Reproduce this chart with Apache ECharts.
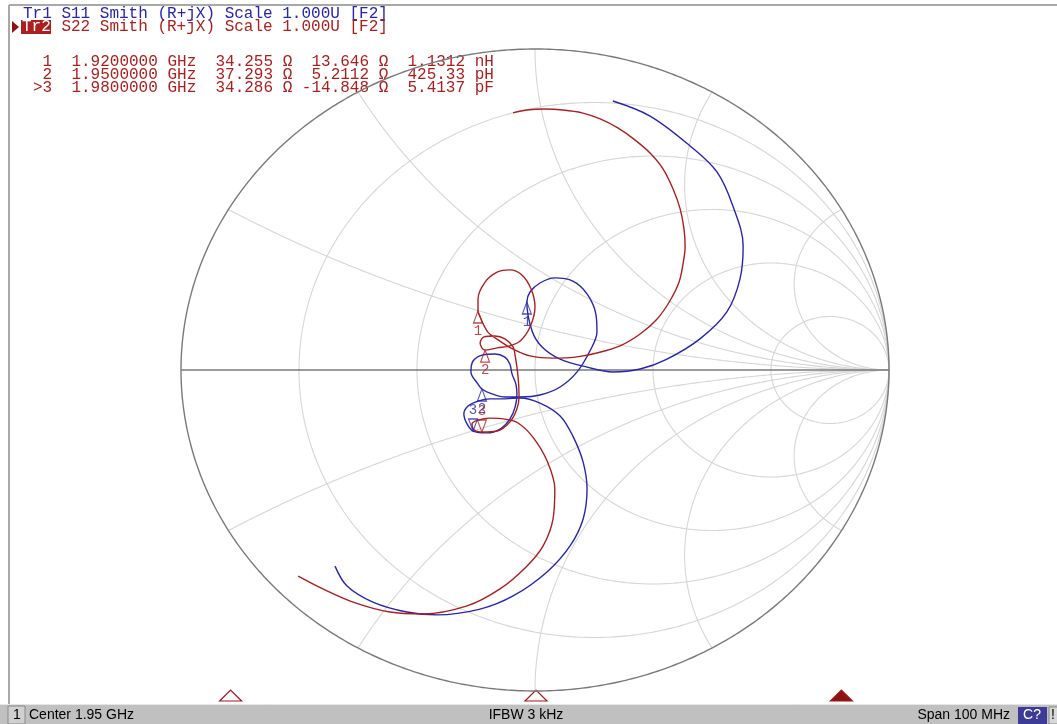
<!DOCTYPE html>
<html><head><meta charset="utf-8">
<script src="https://cdn.jsdelivr.net/npm/echarts@6/dist/echarts.min.js"></script>
<style>html,body{margin:0;padding:0;background:#fff;overflow:hidden}#c{width:1057px;height:724px}</style>
</head><body><div id="c"></div>
<script>
// ---- Data (reflection coefficient, real / imaginary) ----
const s11 = [
[0.220,0.838],[0.325,0.791],[0.438,0.698],[0.514,0.617],[0.559,0.511],[0.588,0.386],[0.579,0.283],[0.542,0.181],[0.466,0.097],[0.373,0.034],[0.297,0.003],[0.220,-0.006],[0.147,0.009],[0.071,0.034],[0.020,0.072],[-0.008,0.121],
[-0.023,0.212],
[-0.014,0.243],[0.014,0.271],[0.056,0.287],[0.107,0.277],[0.147,0.237],[0.172,0.174],[0.175,0.118],[0.155,0.059],[0.119,-0.006],[0.071,-0.053],[0.014,-0.078],[-0.042,-0.084],
[-0.085,-0.084],[-0.127,-0.072],[-0.150,-0.059],[-0.161,-0.044],[-0.181,-0.006],[-0.175,0.028],[-0.147,0.047],[-0.113,0.050],[-0.085,0.040],[-0.071,0.019],[-0.065,-0.012],[-0.054,-0.044],[-0.051,-0.075],
[-0.056,-0.115],[-0.071,-0.153],[-0.099,-0.184],[-0.136,-0.196],[-0.175,-0.190],[-0.192,-0.168],[-0.201,-0.137],[-0.189,-0.112],[-0.161,-0.097],[-0.127,-0.090],[-0.085,-0.090],[-0.042,-0.087],
[0.014,-0.103],[0.071,-0.143],[0.107,-0.206],[0.136,-0.287],[0.147,-0.371],[0.136,-0.464],[0.099,-0.548],[0.034,-0.629],[-0.062,-0.704],[-0.155,-0.745],[-0.277,-0.763],[-0.362,-0.754],[-0.458,-0.723],[-0.531,-0.673],[-0.565,-0.611]
];
const s22 = [
[-0.062,0.801],[-0.023,0.810],[0.028,0.813],[0.079,0.810],[0.133,0.801],[0.184,0.782],[0.234,0.754],[0.282,0.717],[0.325,0.676],[0.362,0.626],[0.390,0.564],[0.410,0.502],[0.421,0.439],[0.424,0.383],[0.418,0.330],[0.407,0.274],[0.381,0.215],[0.345,0.159],[0.297,0.112],[0.240,0.075],[0.175,0.053],[0.113,0.040],[0.051,0.037],[-0.014,0.044],[-0.062,0.065],
[-0.099,0.090],[-0.133,0.118],[-0.155,0.165],[-0.161,0.184],[-0.161,0.221],[-0.141,0.274],[-0.107,0.305],[-0.071,0.312],[-0.037,0.296],[-0.011,0.252],[0.000,0.196],[-0.014,0.134],[-0.042,0.090],[-0.071,0.075],
[-0.107,0.069],[-0.141,0.062],[-0.155,0.084],[-0.144,0.103],[-0.113,0.106],[-0.085,0.097],[-0.062,0.072],
[-0.056,0.044],[-0.048,-0.019],[-0.045,-0.081],[-0.051,-0.121],[-0.071,-0.162],[-0.107,-0.190],[-0.150,-0.193],[-0.172,-0.187],[-0.178,-0.168],[-0.161,-0.156],[-0.127,-0.150],[-0.085,-0.153],[-0.048,-0.165],
[-0.006,-0.209],[0.034,-0.283],[0.056,-0.371],[0.051,-0.464],[0.023,-0.548],[-0.023,-0.611],[-0.099,-0.682],[-0.192,-0.735],[-0.316,-0.760],[-0.410,-0.754],[-0.514,-0.723],[-0.599,-0.682],[-0.669,-0.642]
];
const s11Markers = [[-0.023,0.212],[-0.150,-0.059],[-0.175,-0.190]];
const s22Markers = [[-0.161,0.184],[-0.141,0.062],[-0.150,-0.193]];
const markerLabels = ['1','2','3'];
const activeMarker = 2;
const markerFreqsGHz = [1.92, 1.95, 1.98];
const centerGHz = 1.95, spanGHz = 0.1;
const headerLines = ['Tr1 S11 Smith (R+jX) Scale 1.000U [F2]', 'S22 Smith (R+jX) Scale 1.000U [F2]'];
const markerRows = [
  ' 1  1.9200000 GHz  34.255 \u03a9  13.646 \u03a9  1.1312 nH',
  ' 2  1.9500000 GHz  37.293 \u03a9  5.2112 \u03a9  425.33 pH',
  '>3  1.9800000 GHz  34.286 \u03a9 -14.848 \u03a9  5.4137 pF'
];
const statusTexts = {left: 'Center 1.95 GHz', mid: 'IFBW 3 kHz', right: 'Span 100 MHz'};
// Smith grid values
const rCircles = [0.2, 0.5, 1, 2, 5];
const xArcs = [0.2679, 0.5774, 1, 1.7321, 3.7321];

// ---- Rendering ----
const BLUE = '#2626b0', RED = '#ad1f1f';
const MONO = '"Liberation Mono", "DejaVu Sans Mono", monospace';
const SANS = '"Liberation Sans Narrow", "Liberation Sans", sans-serif';
const gridItems = [];
rCircles.forEach(r => gridItems.push([0, r]));
xArcs.forEach(x => { gridItems.push([1, x]); gridItems.push([1, -x]); });
gridItems.push([2, 0]); // real axis
gridItems.push([3, 0]); // outer circle r=0

function gamma(r, x) {
  const d = (r + 1) * (r + 1) + x * x;
  return [(r * r - 1 + x * x) / d, 2 * x / d];
}
function gridRender(params, api) {
  const kind = api.value(0), v = api.value(1);
  let pts = [];
  if (kind === 0 || kind === 3) {
    const r = kind === 3 ? 0 : v;
    pts.push([1, 0]);
    const N = 600;
    for (let i = 0; i <= N; i++) {
      const t = -Math.PI / 2 + Math.PI * (i + 0.5) / (N + 1);
      pts.push(gamma(r, Math.tan(t)));
    }
    pts.push([1, 0]);
  } else if (kind === 1) {
    const N = 400;
    for (let i = 0; i < N; i++) {
      const t = (Math.PI / 2) * i / N;
      pts.push(gamma(Math.tan(t), v));
    }
    pts.push([1, 0]);
  } else {
    pts = [[-1, 0], [1, 0]];
  }
  const dark = kind >= 2;
  return {
    type: 'polyline',
    shape: {points: pts.map(p => api.coord(p))},
    style: {fill: null, stroke: dark ? '#7a7a7a' : '#d6d6d6', lineWidth: dark ? 1.4 : 1.1}
  };
}

function markerData(arr) {
  return arr.map((p, i) => {
    const active = i === activeMarker;
    return {
      value: p,
      name: markerLabels[i],
      symbolRotate: active ? 180 : 0,
      symbolOffset: active ? [0, '-50%'] : [0, '50%'],
      label: {position: active ? 'top' : 'bottom', distance: 1}
    };
  });
}
function markerSeries(arr, color) {
  return {
    type: 'scatter', z: 5, data: markerData(arr), symbol: 'triangle', symbolSize: [9, 12],
    itemStyle: {color: 'rgba(255,255,255,0)', borderColor: color, borderWidth: 1.2},
    label: {show: true, formatter: p => p.name, color: color, fontFamily: MONO, fontSize: 14},
    silent: true
  };
}

const chart = echarts.init(document.getElementById('c'), null, {renderer: 'canvas'});
const W = 1057;
const freqX = f => 536 + (f - centerGHz) / spanGHz * 1018;
const graphics = [];
// frame
graphics.push({type: 'line', shape: {x1: 9, y1: 5, x2: 9, y2: 704}, style: {stroke: '#a8a8a8', lineWidth: 2}});
graphics.push({type: 'line', shape: {x1: 9, y1: 5, x2: W, y2: 5}, style: {stroke: '#a8a8a8', lineWidth: 2}});
// header
const HF = '16px ' + MONO;
graphics.push({type: 'text', x: 23, y: 14, style: {text: headerLines[0], fill: BLUE, font: HF, verticalAlign: 'middle'}});
graphics.push({type: 'polygon', shape: {points: [[12, 21], [19, 27], [12, 33]]}, style: {fill: '#8e1414'}});
graphics.push({type: 'rect', shape: {x: 21, y: 20, width: 30, height: 14}, style: {fill: RED}});
graphics.push({type: 'text', x: 22, y: 27, style: {text: 'Tr2', fill: '#fff', font: HF, verticalAlign: 'middle'}});
graphics.push({type: 'text', x: 23 + 4 * 9.6, y: 27, style: {text: headerLines[1], fill: RED, font: HF, verticalAlign: 'middle'}});
markerRows.forEach((t, i) => {
  graphics.push({type: 'text', x: 33, y: 62 + 13 * i, style: {text: t, fill: RED, font: HF, verticalAlign: 'middle'}});
});
// stimulus marker triangles
markerFreqsGHz.forEach((f, i) => {
  const cx = freqX(f), active = i === activeMarker;
  graphics.push({type: 'polygon', shape: {points: [[cx - 11, 701], [cx, 690], [cx + 11, 701]]},
    style: {fill: active ? '#8e1010' : '#fff', stroke: '#a01818', lineWidth: 1.2}});
});
// status bar
graphics.push({type: 'rect', shape: {x: 0, y: 704, width: W, height: 20}, style: {fill: '#c0c0c0'}});
graphics.push({type: 'line', shape: {x1: 0, y1: 704.5, x2: W, y2: 704.5}, style: {stroke: '#e6e6e6', lineWidth: 1}});
graphics.push({type: 'rect', shape: {x: 8, y: 706, width: 17, height: 18}, style: {fill: '#d0d0d0', stroke: '#8a8a8a', lineWidth: 1}});
graphics.push({type: 'text', x: 13, y: 715, style: {text: '1', fill: '#000', font: '14px ' + SANS, verticalAlign: 'middle'}});
graphics.push({type: 'text', x: 29, y: 715, style: {text: statusTexts.left, fill: '#000', font: '14px ' + SANS, verticalAlign: 'middle'}});
graphics.push({type: 'text', x: 526, y: 715, style: {text: statusTexts.mid, fill: '#000', font: '14px ' + SANS, verticalAlign: 'middle', align: 'center'}});
graphics.push({type: 'text', x: 1010, y: 715, style: {text: statusTexts.right, fill: '#000', font: '14px ' + SANS, verticalAlign: 'middle', align: 'right'}});
graphics.push({type: 'rect', shape: {x: 1018, y: 707, width: 29, height: 17}, style: {fill: '#3c3c96'}});
graphics.push({type: 'text', x: 1032, y: 715.5, style: {text: 'C?', fill: '#fff', font: '14px ' + SANS, verticalAlign: 'middle', align: 'center'}});
graphics.push({type: 'rect', shape: {x: 1049, y: 707, width: 10, height: 17}, style: {fill: '#d8d8d8', stroke: '#888', lineWidth: 1}});
graphics.push({type: 'text', x: 1053, y: 715.5, style: {text: '!', fill: '#000', font: '14px "Liberation Sans", sans-serif', verticalAlign: 'middle', align: 'center'}});

chart.setOption({
  animation: false,
  backgroundColor: '#fff',
  grid: {left: 181, right: 168, top: 49, bottom: 33},
  xAxis: {type: 'value', min: -1, max: 1, show: false},
  yAxis: {type: 'value', min: -1, max: 1, show: false},
  series: [
    {type: 'custom', z: 1, silent: true, clip: false, data: gridItems, renderItem: gridRender},
    {type: 'line', z: 3, name: 'S11', data: s11, smooth: 0.35, symbol: 'none', lineStyle: {color: BLUE, width: 1.4}},
    {type: 'line', z: 4, name: 'S22', data: s22, smooth: 0.35, symbol: 'none', lineStyle: {color: RED, width: 1.4}},
    markerSeries(s11Markers, BLUE),
    markerSeries(s22Markers, RED)
  ],
  graphic: graphics
});
</script></body></html>
